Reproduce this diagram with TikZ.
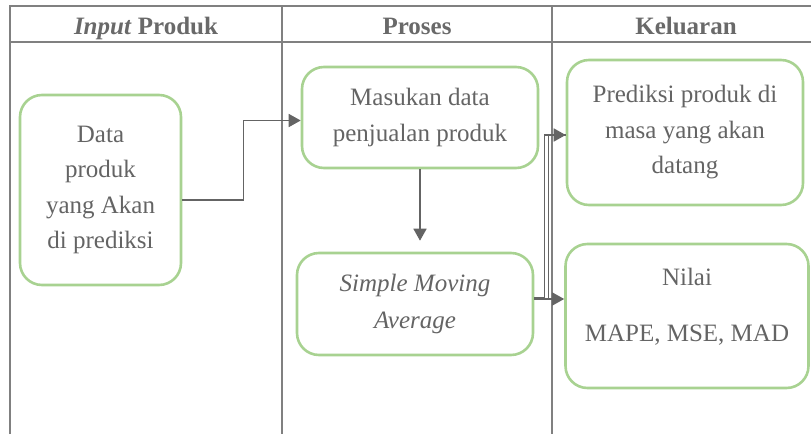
\documentclass[tikz,border=0pt]{standalone}
\usepackage{fontspec}
\setmainfont{LiberationSerif}[Extension=.ttf, UprightFont=*-Regular, BoldFont=*-Bold, ItalicFont=*-Italic, BoldItalicFont=*-BoldItalic]
\usetikzlibrary{arrows.meta}
\definecolor{boxgreen}{RGB}{168,210,145}
\definecolor{txtgray}{RGB}{100,100,100}
\definecolor{hdrgray}{RGB}{105,105,105}
\definecolor{linegray}{RGB}{128,128,128}
\definecolor{arrgray}{RGB}{100,100,100}
\tikzset{
  grid/.style={draw=linegray, line width=1.6pt},
  hdr/.style={text=hdrgray, font=\rmfamily\fontsize{25}{30}\selectfont\bfseries, inner sep=0pt, anchor=base},
  procbox/.style={draw=boxgreen, line width=2.6pt, rounded corners=22pt, text=txtgray,
    align=center, inner sep=0pt, font=\rmfamily\fontsize{25}{35.5}\selectfont},
  arr/.style={draw=arrgray, line width=1.6pt, -{Triangle[length=12pt,width=13pt]}},
  lin/.style={draw=arrgray, line width=1.6pt}
}
\begin{document}
\begin{tikzpicture}[x=1pt,y=-1pt]
\useasboundingbox (0,0) rectangle (811,434);
% table grid
\draw[grid] (10,434) -- (10,6) -- (811,6);
\draw[grid] (10,42) -- (811,42);
\draw[grid] (282,6) -- (282,434);
\draw[grid] (552,6) -- (552,434);
% headers
\node[hdr] (h1) at (146,34) {\textit{Input} Produk};
\node[hdr] (h2) at (417,34) {Proses};
\node[hdr] (h3) at (686,34) {Keluaran};
% boxes
\node[procbox, minimum width=161pt, minimum height=190pt] (b1) at (100.5,190)
  {Data\\produk\\yang Akan\\di prediksi};
\node[procbox, minimum width=236pt, minimum height=101pt] (b2) at (420,117.5)
  {Masukan data\\penjualan produk};
\node[procbox, minimum width=236pt, minimum height=102pt, font=\rmfamily\fontsize{25}{37}\selectfont\itshape] (b3) at (415,304)
  {Simple Moving\\Average};
\node[procbox, minimum width=236pt, minimum height=145pt] (b4) at (685,132.5)
  {Prediksi produk di\\masa yang akan\\datang};
\node[procbox, minimum width=243pt, minimum height=144pt, text depth=22pt] (b5) at (687,316)
  {Nilai\\[20pt]MAPE, MSE, MAD};
% connectors
\draw[arr] ([yshift=-10pt]b1.east) -- ++(61,0) |- ([yshift=-3pt]b2.west);
\draw[arr, shorten >=11pt] (b2.south) -- (b2.south |- b3.north);
\coordinate (s3) at ([yshift=6pt]b3.east);
\draw[arr] (s3) -- ++(10,0) |- ([yshift=-2.5pt]b4.west);
\draw[lin] ([yshift=5pt]b3.east) -- ++(14,0) |- ([yshift=-2.5pt]b4.west);
\draw[arr] ([yshift=5pt]b3.east) -- ([yshift=5pt]b3.east -| b5.west);
\end{tikzpicture}
\end{document}
